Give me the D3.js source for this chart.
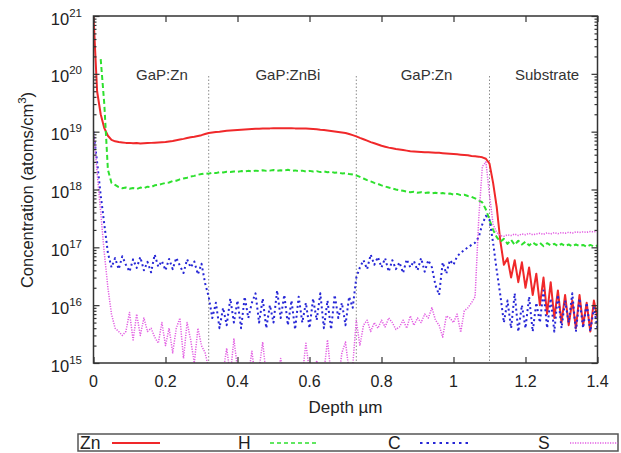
<!DOCTYPE html>
<html>
<head>
<meta charset="utf-8">
<script src="https://cdn.jsdelivr.net/npm/d3@7/dist/d3.min.js"></script>
<style>
  body { margin: 0; background: #fff; }
  svg { font-family: "Liberation Sans", Arial, sans-serif; }
</style>
</head>
<body>
<svg id="chart" width="621" height="453"></svg>
<script>
// SIMS depth profile, one value every 0.01 um from 0 to 1.4 um (atoms/cm3)
var depthStep = 0.01;

var zn = [
  1e21, 5e19, 2e19, 1.15e19, 8.5e18, 7.2e18, 6.8e18, 6.6e18, 6.5e18, 6.4e18,
  6.4e18, 6.3e18, 6.35e18, 6.25e18, 6.3e18, 6.35e18, 6.4e18, 6.45e18, 6.5e18, 6.55e18,
  6.6e18, 6.75e18, 6.9e18, 7.1e18, 7.3e18, 7.5e18, 7.75e18, 8e18, 8.2e18, 8.45e18,
  8.7e18, 9.1e18, 9.5e18, 9.7e18, 9.9e18, 1e19, 1.02e19, 1.04e19, 1.05e19, 1.06e19,
  1.07e19, 1.08e19, 1.09e19, 1.1e19, 1.11e19, 1.12e19, 1.12e19, 1.13e19, 1.14e19, 1.14e19,
  1.15e19, 1.15e19, 1.15e19, 1.15e19, 1.15e19, 1.15e19, 1.14e19, 1.14e19, 1.13e19, 1.13e19,
  1.12e19, 1.11e19, 1.1e19, 1.08e19, 1.07e19, 1.05e19, 1.03e19, 1.01e19, 9.9e18, 9.7e18,
  9.5e18, 9.1e18, 8.7e18, 8.3e18, 7.8e18, 7.4e18, 7e18, 6.6e18, 6.3e18, 6e18,
  5.7e18, 5.5e18, 5.3e18, 5.15e18, 5e18, 4.9e18, 4.8e18, 4.7e18, 4.6e18, 4.55e18,
  4.5e18, 4.45e18, 4.4e18, 4.4e18, 4.35e18, 4.3e18, 4.3e18, 4.25e18, 4.2e18, 4.15e18,
  4.1e18, 4.05e18, 4e18, 3.95e18, 3.9e18, 3.8e18, 3.75e18, 3.7e18, 3.6e18, 3.4e18,
  2.8e18, 1.3e18, 5e17, 1.3e17, 5e16, 6.5e16, 3e16, 6e16, 2.5e16, 5.5e16,
  2e16, 4.5e16, 1.5e16, 3.5e16, 1e16, 3e16, 7e15, 2.5e16, 6e15, 1.8e16,
  5e15, 1.5e16, 4.5e15, 1.2e16, 4e15, 1.5e16, 4.5e15, 1.1e16, 3.5e15, 1.2e16,
  6e15
];

var h = [
  null, null, 1.8e20, 3e19, 2.2e18, 1.3e18, 1.2e18, 1.1e18, 1.05e18, 1.08e18,
  1.03e18, 1.06e18, 1.02e18, 1.08e18, 1.05e18, 1.12e18, 1.1e18, 1.18e18, 1.2e18, 1.25e18,
  1.3e18, 1.32e18, 1.4e18, 1.42e18, 1.5e18, 1.55e18, 1.6e18, 1.68e18, 1.72e18, 1.8e18,
  1.85e18, 1.9e18, 1.88e18, 1.95e18, 1.92e18, 2e18, 1.97e18, 2.02e18, 2e18, 2.05e18,
  2.02e18, 2.08e18, 2.05e18, 2.1e18, 2.06e18, 2.12e18, 2.08e18, 2.15e18, 2.1e18, 2.12e18,
  2.18e18, 2.1e18, 2.15e18, 2.12e18, 2.2e18, 2.1e18, 2.14e18, 2.08e18, 2.12e18, 2.05e18,
  2.1e18, 2.04e18, 2.08e18, 2e18, 2.05e18, 1.98e18, 2.02e18, 1.95e18, 1.97e18, 1.9e18,
  1.92e18, 1.85e18, 1.82e18, 1.75e18, 1.65e18, 1.55e18, 1.45e18, 1.38e18, 1.3e18, 1.25e18,
  1.18e18, 1.13e18, 1.08e18, 1.04e18, 1e18, 9.7e17, 9.5e17, 9.2e17, 9e17, 9.1e17,
  8.8e17, 9e17, 8.7e17, 8.9e17, 8.6e17, 8.8e17, 8.5e17, 8.7e17, 8.4e17, 8.5e17,
  8.2e17, 8.4e17, 8e17, 8.1e17, 7.7e17, 7.5e17, 7e17, 6.5e17, 6e17, 4.5e17,
  3e17, 2e17, 1.5e17, 1.25e17, 1.4e17, 1.15e17, 1.35e17, 1.1e17, 1.3e17, 1.12e17,
  1.25e17, 1.08e17, 1.22e17, 1.1e17, 1.2e17, 1.05e17, 1.18e17, 1.08e17, 1.15e17, 1.05e17,
  1.15e17, 1.06e17, 1.12e17, 1.04e17, 1.12e17, 1.05e17, 1.1e17, 1.02e17, 1.1e17, 1.03e17,
  1.08e17
];

var c = [
  1e19, 3e18, 8e17, 2.5e17, 8e16, 4.5e16, 6.5e16, 4.2e16, 7e16, 5e16,
  3.8e16, 6.2e16, 4.4e16, 6.8e16, 4e16, 5.6e16, 3.7e16, 7.5e16, 4.6e16, 5.8e16,
  4e16, 6.3e16, 4.2e16, 6.6e16, 4.8e16, 3.6e16, 6.2e16, 4.5e16, 5.7e16, 3.4e16,
  5.2e16, 2.4e16, 1.4e16, 6e15, 1.1e16, 4e15, 9e15, 4.5e15, 1.3e16, 5e15,
  1.2e16, 4e15, 1.4e16, 6e15, 1.1e16, 1.6e16, 5e15, 1.3e16, 4e15, 1e16,
  5e15, 1.8e16, 6e15, 1.5e16, 4.5e15, 1.2e16, 3.8e15, 1.4e16, 5e15, 1.1e16,
  4e15, 1.3e16, 5.5e15, 1.6e16, 4e15, 1.2e16, 3.8e15, 1.5e16, 6e15, 1.1e16,
  4.5e15, 1.4e16, 9e15, 3e16, 4.5e16, 6e16, 4.2e16, 7.5e16, 5e16, 6.8e16,
  4.5e16, 6.5e16, 3.8e16, 6e16, 4.2e16, 5.5e16, 3.6e16, 6.2e16, 4.5e16, 5.8e16,
  4e16, 6.5e16, 3.8e16, 6e16, 4.5e16, 2.2e16, 1.5e16, 5.5e16, 3.5e16, 6e16,
  5e16, 7e16, 8e16, 9e16, 1e17, 1.1e17, 1.2e17, 1.5e17, 2.5e17, 3.5e17,
  3e17, 1.2e17, 4e16, 1.5e16, 5e15, 1.2e16, 4e15, 1.6e16, 3.5e15, 1e16,
  4e15, 1.4e16, 3.5e15, 1.1e16, 5e15, 1.8e16, 4e15, 1.3e16, 3.5e15, 1.5e16,
  4e15, 1.2e16, 5e15, 1.6e16, 3.5e15, 1.3e16, 4e15, 1.1e16, 3.5e15, 9e15,
  4e15
];

var s = [
  1e19, 2e18, 4e17, 8e16, 2e16, 7e15, 4e15, 3.5e15, 3e15, 3.5e15,
  7.5e15, 2.5e15, 7e15, 3e15, 6e15, 3.5e15, 4e15, 2.8e15, 2.2e15, 5e15,
  2e15, 4e15, 1.5e15, 4e15, 6e15, 1.2e15, 5e15, 2.5e15, 1e15, 4e15,
  2e15, 1.5e15, 8e14, 6e14, 9e14, 5e14, 7e14, 1.8e15, 6e14, 2.6e15,
  8e14, 5e14, 7e14, 6e14, 1.6e15, 5e14, 8e14, 2.3e15, 6e14, 5e14,
  7e14, 6e14, 1.2e15, 5e14, 8e14, 6e14, 5e14, 9e14, 6e14, 2.2e15,
  7e14, 5e14, 1.1e15, 6e14, 7e14, 2.5e15, 6e14, 8e14, 5e14, 1.5e15,
  2.3e15, 7e14, 9e14, 5.5e15, 2e15, 4.5e15, 5.5e15, 3.5e15, 5e15, 4e15,
  5.5e15, 4.2e15, 6e15, 5e15, 3.8e15, 4.2e15, 5.5e15, 4e15, 6.5e15, 4.5e15,
  6e15, 5e15, 7e15, 6e15, 9e15, 5.5e15, 4.5e15, 2.8e15, 6.5e15, 6e15,
  5e15, 7e15, 3.4e15, 8e15, 9e15, 1.1e16, 1.4e16, 3e17, 2.5e18, 3e18,
  8e17, 2.5e17, 1.8e17, 1.6e17, 1.55e17, 1.65e17, 1.6e17, 1.7e17, 1.6e17, 1.7e17,
  1.65e17, 1.75e17, 1.65e17, 1.7e17, 1.75e17, 1.68e17, 1.78e17, 1.7e17, 1.8e17, 1.72e17,
  1.8e17, 1.75e17, 1.82e17, 1.76e17, 1.85e17, 1.8e17, 1.85e17, 1.82e17, 1.88e17, 1.85e17,
  1.9e17
];

var xTicks = [0, 0.2, 0.4, 0.6, 0.8, 1, 1.2, 1.4];
var xTickLabels = ["0", "0.2", "0.4", "0.6", "0.8", "1", "1.2", "1.4"];
var yExponents = [15, 16, 17, 18, 19, 20, 21];

// layer interfaces and names
var layerBounds = [0.32, 0.73, 1.10];
var layerNames = ["GaP:Zn", "GaP:ZnBi", "GaP:Zn", "Substrate"];
var layerNameDepths = [0.19, 0.54, 0.925, 1.26];

var series = [
  {name: "Zn", values: zn, color: "#f0282a", dash: null,  width: 2,   keyWidth: 2,   keyDash: null},
  {name: "H",  values: h,  color: "#2ee02e", dash: "5,3", width: 2,   keyWidth: 1.3, keyDash: "4,3"},
  {name: "C",  values: c,  color: "#2626d6", dash: "2,3", width: 2,   keyWidth: 2.2, keyDash: "2.5,4"},
  {name: "S",  values: s,  color: "#e25ce2", dash: "1.2,1.3", width: 1.5, keyWidth: 1.5, keyDash: "1.2,1.3"}
];

var plotLeft = 93.5, plotRight = 597.5, plotTop = 16, plotBottom = 363;

var svg = d3.select("#chart");

var x = d3.scaleLinear().domain([0, 1.4]).range([plotLeft, plotRight]);
var y = d3.scaleLog().domain([1e15, 1e21]).range([plotBottom, plotTop]);

svg.append("defs").append("clipPath").attr("id", "plotClip")
  .append("rect")
  .attr("x", plotLeft).attr("y", plotTop)
  .attr("width", plotRight - plotLeft).attr("height", plotBottom - plotTop);

// dotted layer boundaries
svg.append("g").selectAll("line")
  .data(layerBounds)
  .enter().append("line")
  .attr("x1", function (d) { return x(d); })
  .attr("x2", function (d) { return x(d); })
  .attr("y1", 76)
  .attr("y2", plotBottom)
  .attr("stroke", "#8c8c8c")
  .attr("stroke-width", 1)
  .attr("stroke-dasharray", "1.5,2");

// layer names
svg.append("g").selectAll("text")
  .data(layerNames)
  .enter().append("text")
  .attr("x", function (d, i) { return x(layerNameDepths[i]); })
  .attr("y", 80)
  .attr("text-anchor", "middle")
  .attr("font-size", 15)
  .attr("fill", "#333")
  .text(function (d) { return d; });

// profiles
var line = d3.line()
  .defined(function (d) { return d != null; })
  .x(function (d, i) { return x(i * depthStep); })
  .y(function (d) { return y(d); });

var plot = svg.append("g").attr("clip-path", "url(#plotClip)");
series.forEach(function (sr) {
  plot.append("path")
    .datum(sr.values)
    .attr("d", line)
    .attr("fill", "none")
    .attr("stroke", sr.color)
    .attr("stroke-width", sr.width)
    .attr("stroke-dasharray", sr.dash)
    .attr("stroke-linejoin", "round");
});

// ticks pointing inward on all four sides
var yMajors = yExponents.map(function (e) { return Math.pow(10, e); });
var yMinors = [];
yExponents.slice(0, -1).forEach(function (e) {
  for (var k = 2; k < 10; k++) yMinors.push(k * Math.pow(10, e));
});

function styleAxis(g) {
  g.select(".domain").remove();
  g.selectAll("line").attr("stroke", "#333").attr("stroke-width", 1.2);
}

svg.append("g").attr("transform", "translate(0," + plotBottom + ")")
  .call(d3.axisBottom(x).tickValues(xTicks).tickSize(-6).tickFormat(""))
  .call(styleAxis);
svg.append("g").attr("transform", "translate(0," + plotTop + ")")
  .call(d3.axisTop(x).tickValues(xTicks).tickSize(-6).tickFormat(""))
  .call(styleAxis);
svg.append("g").attr("transform", "translate(" + plotLeft + ",0)")
  .call(d3.axisLeft(y).tickValues(yMajors).tickSize(-6).tickFormat(""))
  .call(styleAxis);
svg.append("g").attr("transform", "translate(" + plotLeft + ",0)")
  .call(d3.axisLeft(y).tickValues(yMinors).tickSize(-3).tickFormat(""))
  .call(styleAxis);
svg.append("g").attr("transform", "translate(" + plotRight + ",0)")
  .call(d3.axisRight(y).tickValues(yMajors).tickSize(-6).tickFormat(""))
  .call(styleAxis);
svg.append("g").attr("transform", "translate(" + plotRight + ",0)")
  .call(d3.axisRight(y).tickValues(yMinors).tickSize(-3).tickFormat(""))
  .call(styleAxis);

// frame
svg.append("rect")
  .attr("x", plotLeft).attr("y", plotTop)
  .attr("width", plotRight - plotLeft).attr("height", plotBottom - plotTop)
  .attr("fill", "none")
  .attr("stroke", "#333")
  .attr("stroke-width", 1.5);

// x tick labels
svg.append("g").selectAll("text")
  .data(xTicks)
  .enter().append("text")
  .attr("x", function (d) { return x(d); })
  .attr("y", 387)
  .attr("text-anchor", "middle")
  .attr("font-size", 16)
  .attr("fill", "#222")
  .text(function (d, i) { return xTickLabels[i]; });

// y tick labels as 10^n
var yLabels = svg.append("g").selectAll("text")
  .data(yExponents)
  .enter().append("text")
  .attr("x", 82)
  .attr("y", function (e) { return y(Math.pow(10, e)) + 8.5; })
  .attr("text-anchor", "end")
  .attr("font-size", 16.5)
  .attr("fill", "#222");
yLabels.append("tspan").text("10");
yLabels.append("tspan")
  .attr("font-size", 11.5)
  .attr("dy", -8)
  .text(function (e) { return e; });

// axis titles
svg.append("text")
  .attr("x", (plotLeft + plotRight) / 2)
  .attr("y", 413)
  .attr("text-anchor", "middle")
  .attr("font-size", 17)
  .attr("fill", "#222")
  .text("Depth \u00b5m");

var yTitle = svg.append("text")
  .attr("transform", "translate(33,190) rotate(-90)")
  .attr("text-anchor", "middle")
  .attr("font-size", 16.5)
  .attr("fill", "#222");
yTitle.append("tspan").text("Concentration (atoms/cm");
yTitle.append("tspan").attr("font-size", 11.5).attr("dy", -7).text("3");
yTitle.append("tspan").attr("dy", 7).text(")");

// legend strip
var legend = svg.append("g");
legend.append("rect")
  .attr("x", 78).attr("y", 434)
  .attr("width", 540).attr("height", 17)
  .attr("fill", "#fff")
  .attr("stroke", "#555")
  .attr("stroke-width", 1.5);

var legendX = [80, 238, 388, 538];
series.forEach(function (sr, i) {
  legend.append("text")
    .attr("x", legendX[i])
    .attr("y", 449)
    .attr("font-size", 17.5)
    .attr("fill", "#222")
    .text(sr.name);
  legend.append("line")
    .attr("x1", legendX[i] + 32).attr("x2", legendX[i] + 80)
    .attr("y1", 443).attr("y2", 443)
    .attr("stroke", sr.color)
    .attr("stroke-width", sr.keyWidth)
    .attr("stroke-dasharray", sr.keyDash);
});
</script>
</body>
</html>
